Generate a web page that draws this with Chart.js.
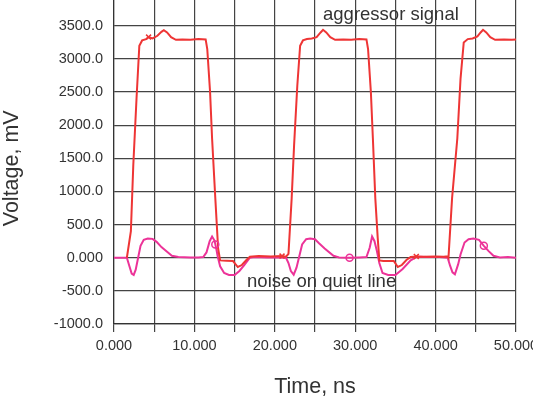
<!DOCTYPE html>
<html>
<head>
<meta charset="utf-8">
<script src="https://cdn.jsdelivr.net/npm/chart.js@4"></script>
<style>
  html, body { margin: 0; padding: 0; background: #fff; }
  canvas { display: block; }
</style>
</head>
<body>
<canvas id="xtalk" width="533" height="400"></canvas>
<script>
// ---- data (time in ns, voltage in mV) ----
const aggressorTime = [
  1.6, 2.1, 2.4, 2.8, 3.15, 3.5, 4.0, 4.3, 4.8, 5.4, 5.9, 6.2, 6.6, 7.1, 7.7, 8.5, 9.5, 10.5, 11.4,
  11.6, 11.95, 12.2, 12.6, 12.95, 13.2, 14.0, 14.8, 15.4, 15.9, 16.5, 16.9, 18.0, 19.5, 20.9, 21.4,
  21.7, 22.1, 22.4, 22.8, 23.15, 23.5, 24.0, 24.6, 25.2, 25.7, 26.0, 26.4, 26.9, 27.5, 28.5, 29.5, 30.5, 31.4,
  31.6, 31.95, 32.2, 32.5, 32.8, 33.0, 33.5, 34.8, 35.3, 35.8, 36.4, 36.9, 37.6, 38.5, 40.0, 41.0, 41.5,
  41.6, 42.05, 42.7, 43.1, 43.5, 44.0, 44.6, 45.2, 45.6, 45.9, 46.3, 46.8, 47.4, 48.5, 49.5, 50.0
];
const aggressorVolt = [
  0, 400, 1400, 2400, 3200, 3280, 3300, 3330, 3310, 3350, 3410, 3435, 3400, 3330, 3290, 3295, 3290, 3300, 3295,
  3150, 2500, 1800, 900, 140, -40, -45, -50, -140, -110, -30, 15, 25, 20, 25, 15,
  60, 900, 1700, 2600, 3200, 3280, 3300, 3310, 3330, 3400, 3440, 3400, 3330, 3290, 3295, 3290, 3300, 3295,
  3150, 2500, 1800, 900, 300, -40, -50, -50, -140, -110, -30, 10, 20, 15, 20, 15, 20,
  0, 900, 1800, 2700, 3250, 3300, 3310, 3340, 3400, 3440, 3400, 3330, 3290, 3295, 3290, 3295
];

const quietTime = [
  0, 1.6, 1.9, 2.2, 2.45, 2.7, 3.0, 3.3, 3.7, 4.2, 4.8, 5.3, 5.9, 6.6, 7.2, 8.0, 9.5, 10.5, 11.1,
  11.5, 11.9, 12.2, 12.5, 12.7, 12.9, 13.2, 13.7, 14.3, 15.0, 15.6, 16.2, 16.9, 17.5, 19.0, 20.5,
  21.4, 21.7, 22.0, 22.35, 22.7, 23.0, 23.4, 23.9, 24.4, 25.0, 25.5, 26.2, 27.3, 28.0, 29.3, 30.5, 31.4,
  31.8, 32.1, 32.4, 32.7, 33.0, 33.4, 34.1, 35.0, 35.9, 36.9, 37.7, 39.0, 40.5,
  41.5, 41.8, 42.1, 42.4, 42.8, 43.1, 43.6, 44.1, 44.7, 45.4, 46.0, 46.6, 47.2, 48.0, 49.0, 50.0
];
const quietVolt = [
  0, 0, -120, -240, -260, -180, 0, 180, 270, 290, 285, 240, 160, 90, 30, 10, 5, 5, 10,
  80, 250, 320, 260, 150, 20, -130, -230, -260, -260, -200, -110, 0, 10, 5, 5,
  0, -80, -200, -255, -150, 0, 200, 280, 290, 280, 220, 140, 30, 5, 0, 5, 10,
  150, 320, 250, 100, -80, -230, -260, -260, -170, -40, 15, 10, 10,
  0, -120, -220, -250, -100, 50, 230, 280, 290, 270, 180, 100, 30, 5, 10, 0
];

// marker symbols placed along each trace
const aggressorMarkTime = [4.3, 20.9, 37.6];
const aggressorMarkVolt = [3330, 25, 20];
const quietMarkTime = [12.6, 29.3, 46.0];
const quietMarkVolt = [200, 0, 180];

// axis ticks
const yTickValues = [-1000, -500, 0, 500, 1000, 1500, 2000, 2500, 3000, 3500];
const yTickLabels = ['-1000.0', '-500.0', '0.000', '500.0', '1000.0', '1500.0', '2000.0', '2500.0', '3000.0', '3500.0'];
const xTickValues = [0, 5, 10, 15, 20, 25, 30, 35, 40, 45, 50];
const xTickLabels = ['0.000', '', '10.000', '', '20.000', '', '30.000', '', '40.000', '', '50.000'];

// text labels inside the plot
const notes = [
  { text: 'aggressor signal', x: 26.0, y: 3670 },
  { text: 'noise on quiet line', x: 16.55, y: -370 }
];
const yTitle = 'Voltage, mV';

// ---- styling ----
const RED  = '#ee3535';
const PINK = '#ec3398';
const GRID = '#444444';
const INK  = '#333333';
const FONT = "'Liberation Sans', Arial, Helvetica, sans-serif";

const pts = (xs, ys) => xs.map((x, i) => ({ x, y: ys[i] }));

const notePlugin = {
  id: 'notes',
  afterDatasetsDraw(chart) {
    const { ctx, scales: { x, y } } = chart;
    ctx.save();
    ctx.font = `18.5px ${FONT}`;
    ctx.fillStyle = INK;
    ctx.textAlign = 'left';
    ctx.textBaseline = 'middle';
    notes.forEach(n => ctx.fillText(n.text, x.getPixelForValue(n.x), y.getPixelForValue(n.y)));

    // y axis title, sits a bit below the axis middle like the original
    ctx.font = `21.5px ${FONT}`;
    ctx.textAlign = 'center';
    ctx.translate(12.5, y.getPixelForValue(1350));
    ctx.rotate(-Math.PI / 2);
    ctx.fillText(yTitle, 0, 0);
    ctx.restore();
  }
};

new Chart(document.getElementById('xtalk'), {
  type: 'line',
  data: {
    datasets: [
      {
        label: 'aggressor marks',
        data: pts(aggressorMarkTime, aggressorMarkVolt),
        showLine: false,
        pointStyle: 'crossRot',
        pointRadius: 3.5,
        pointBorderWidth: 1.5,
        borderColor: RED,
        order: 0
      },
      {
        label: 'quiet marks',
        data: pts(quietMarkTime, quietMarkVolt),
        showLine: false,
        pointStyle: 'circle',
        pointRadius: 3.5,
        pointBorderWidth: 1.5,
        borderColor: PINK,
        backgroundColor: 'rgba(0,0,0,0)',
        order: 0
      },
      {
        label: 'aggressor signal',
        data: pts(aggressorTime, aggressorVolt),
        borderColor: RED,
        borderWidth: 2,
        pointRadius: 0,
        tension: 0,
        order: 1
      },
      {
        label: 'noise on quiet line',
        data: pts(quietTime, quietVolt),
        borderColor: PINK,
        borderWidth: 2,
        pointRadius: 0,
        tension: 0,
        order: 2
      }
    ]
  },
  options: {
    responsive: false,
    animation: false,
    devicePixelRatio: 1,
    layout: { autoPadding: false, padding: { top: 0, right: 17, bottom: 0, left: 0 } },
    plugins: { legend: { display: false }, tooltip: { enabled: false } },
    scales: {
      x: {
        type: 'linear',
        min: 0,
        max: 50,
        afterBuildTicks: s => { s.ticks = xTickValues.map(v => ({ value: v })); },
        afterFit: s => { s.height = 76; s.paddingLeft = 0; s.paddingRight = 0; },
        ticks: {
          autoSkip: false,
          maxRotation: 0,
          padding: 5,
          color: INK,
          font: { size: 14.5, family: FONT },
          callback: v => xTickLabels[xTickValues.indexOf(v)]
        },
        grid: { color: GRID, lineWidth: 1.2, tickLength: 8 },
        border: { color: INK, width: 1.2 },
        title: {
          display: true,
          text: 'Time, ns',
          color: INK,
          font: { size: 21.5, family: FONT },
          padding: { top: 0, bottom: 0 }
        }
      },
      y: {
        type: 'linear',
        min: -1000,
        max: 3890,
        afterBuildTicks: s => { s.ticks = yTickValues.map(v => ({ value: v })); },
        afterFit: s => { s.width = 114; s.paddingTop = 0; s.paddingBottom = 0; },
        ticks: {
          padding: 11,
          color: INK,
          font: { size: 14.5, family: FONT },
          callback: v => yTickLabels[yTickValues.indexOf(v)]
        },
        grid: { color: GRID, lineWidth: 1.2, drawTicks: false },
        border: { color: INK, width: 1.2 }
      }
    }
  },
  plugins: [notePlugin]
});
</script>
</body>
</html>
